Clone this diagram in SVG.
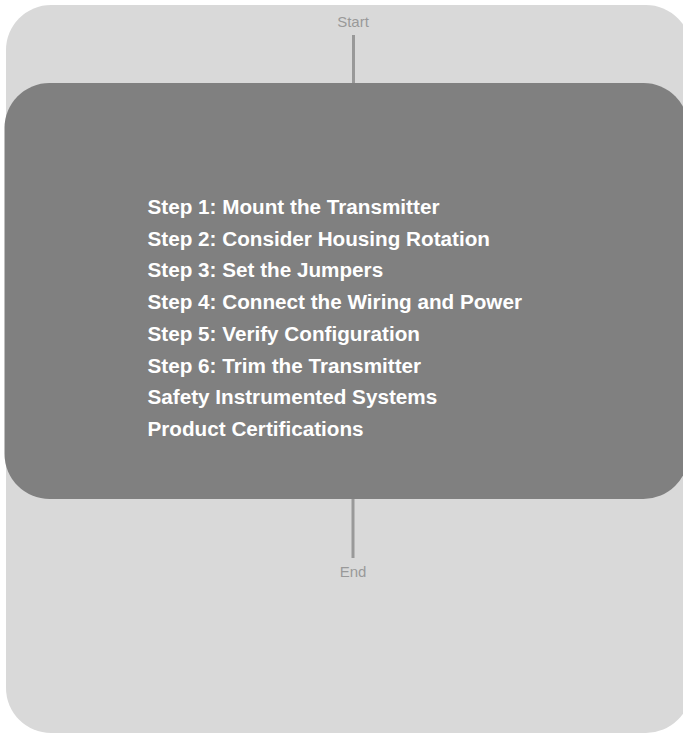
<svg xmlns="http://www.w3.org/2000/svg" width="683" height="734" viewBox="0 0 683 734">
  <style>
    .label { font-family: "Liberation Sans", Arial, sans-serif; font-size: 15px; fill: #999999; text-anchor: middle; }
    .step { font-family: "Liberation Sans", Arial, sans-serif; font-size: 20.7px; font-weight: bold; fill: #ffffff; }
    .conn { stroke: #999999; stroke-width: 3; fill: none; }
  </style>
  <rect width="683" height="734" fill="#ffffff"/>
  <g id="container">
    <rect x="6" y="5" width="685" height="728" rx="45" ry="45" fill="#d9d9d9"/>
  </g>
  <g id="connectors">
    <line class="conn" x1="353.5" y1="35" x2="353.5" y2="84"/>
    <line class="conn" x1="353" y1="498" x2="353" y2="558"/>
  </g>
  <g id="start">
    <text class="label" x="353" y="26.5">Start</text>
  </g>
  <g id="steps">
    <rect x="4.5" y="83" width="684" height="416" rx="45" ry="45" fill="#808080"/>
    <text class="step" x="147.5" y="214">Step 1: Mount the Transmitter</text>
    <text class="step" x="147.5" y="245.7">Step 2: Consider Housing Rotation</text>
    <text class="step" x="147.5" y="277.4">Step 3: Set the Jumpers</text>
    <text class="step" x="147.5" y="309.1">Step 4: Connect the Wiring and Power</text>
    <text class="step" x="147.5" y="340.8">Step 5: Verify Configuration</text>
    <text class="step" x="147.5" y="372.5">Step 6: Trim the Transmitter</text>
    <text class="step" x="147.5" y="404.2">Safety Instrumented Systems</text>
    <text class="step" x="147.5" y="435.9">Product Certifications</text>
  </g>
  <g id="end">
    <text class="label" x="353" y="577">End</text>
  </g>
</svg>
